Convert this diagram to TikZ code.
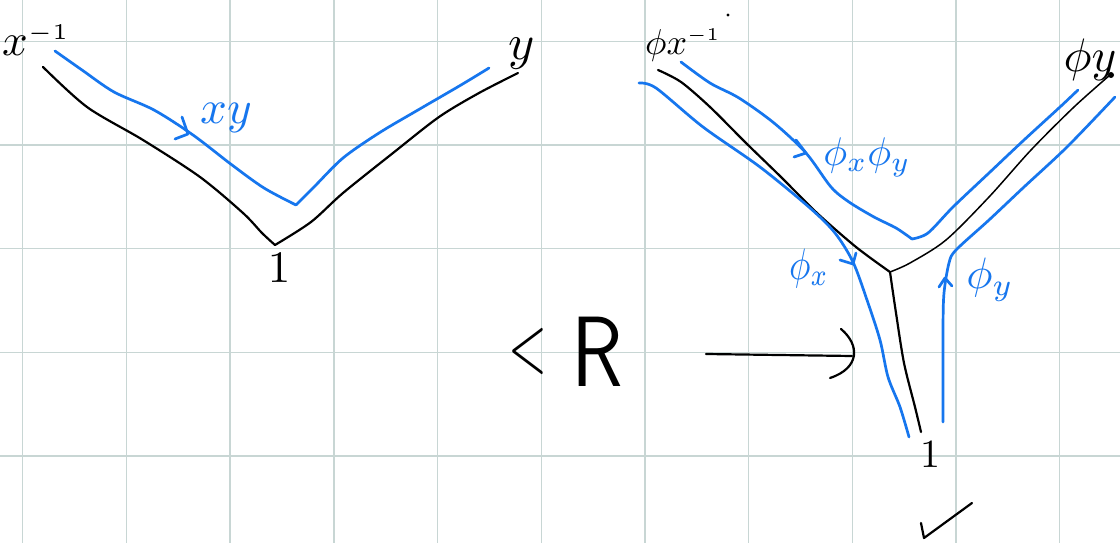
\documentclass[tikz,border=0pt]{standalone}
\definecolor{penblue}{RGB}{22,118,238}
\definecolor{gridcol}{RGB}{200,214,212}
\tikzset{
  ink/.style={line width=2.2pt, black, line cap=round, line join=round},
  thinink/.style={line width=1.5pt, black, line cap=round, line join=round},
  blueink/.style={line width=2.7pt, penblue, line cap=round, line join=round},
  lbl/.style={inner sep=0pt},
  bluelbl/.style={lbl, text=penblue},
}
\newcommand{\bigtxt}[2]{\scalebox{#1}{#2}}
\begin{document}
\begin{tikzpicture}[x=1pt,y=-1pt]
\useasboundingbox (0,0) rectangle (1120,543);
\fill[white] (0,0) rectangle (1120,543);
% grid
\foreach \k in {0,...,10} {\draw[gridcol, line width=1.4pt] ({22.7+103.7*\k},0) -- ({22.7+103.7*\k},543);}
\foreach \k in {0,...,4} {\draw[gridcol, line width=1.4pt] (0,{41.5+103.6*\k}) -- (1120,{41.5+103.6*\k});}

% ---------- left V ----------
\coordinate (Lv) at (275,245);
\draw[ink] plot[smooth] coordinates {(43,67) (87,107) (143,140) (200,177) (243,213) (262,233) (Lv)};
\draw[ink] plot[smooth] coordinates {(Lv) (311,222) (343,193) (393,153) (439,117) (479,93) (518,73)};
\coordinate (Lb) at (296,205);
\draw[blueink] plot[smooth] coordinates {(55,51) (82,70) (114,92) (154,110) (193,135) (232,165) (264,188) (Lb)};
\draw[blueink] plot[smooth] coordinates {(Lb) (314,187) (343,158) (379,133) (418,110) (461,85) (489,68)};
\draw[blueink] (182,117) -- (188,134) -- (175,139);

\node[lbl] (lx) at (36,40) {\bigtxt{4.5}{$x^{\scriptscriptstyle -1}$}};
\node[lbl] (ly) at (522,54) {\bigtxt{5}{$y$}};
\node[lbl] (l1) at (279,268) {\bigtxt{4.5}{$1$}};
\node[bluelbl] (lxy) at (226,118) {\bigtxt{4.7}{$xy$}};

% ---------- right Y ----------
\coordinate (Rv) at (890,272);
\draw[ink] plot[smooth] coordinates {(658,70) (681,82) (710,107) (746,143) (781,177) (817,213) (856,247) (Rv)};
\draw[thinink] plot[smooth] coordinates {(Rv) (910,263) (946,240) (989,197) (1031,150) (1074,107) (1110,75)};
\draw[ink] plot[smooth] coordinates {(Rv) (896,313) (904,363) (915,407) (921,432)};
\fill (1111,75) circle (3pt);

% blue outer left path
\draw[blueink] plot[smooth] coordinates {(639,83) (656,88) (703,127) (760,167) (810,208) (835,233) (853,262) (867,300) (880,340) (888,377) (900,407) (909,437)};
\draw[blueink] (840,260) -- (853,264) -- (856,253);
% blue upper path
\coordinate (Rb) at (912,239);
\draw[blueink] plot[smooth] coordinates {(681,62) (710,83) (739,98) (774,123) (806,153) (831,187) (849,202) (874,217) (896,228) (Rb)};
\draw[blueink] plot[smooth] coordinates {(Rb) (928,233) (953,207) (989,173) (1024,140) (1060,107) (1078,90)};
\draw[blueink] (796,140) -- (806,153) -- (794,157);
% blue right path
\draw[blueink] plot[smooth] coordinates {(943,422) (943,330) (944,293) (949,263) (956,250) (989,220) (1024,187) (1067,147) (1115,97)};
\draw[blueink] (939,287) -- (945,278) -- (952,286);

\fill (728,15) circle (1.6pt);

\node[lbl] (rx) at (683,45) {\bigtxt{3.6}{$\phi x^{\scriptscriptstyle -1}$}};
\node[lbl] (ry) at (1090,60) {\bigtxt{4.7}{$\phi y$}};
\node[bluelbl] (rxy) at (867,157) {\bigtxt{4}{$\phi_x\phi_y$}};
\node[bluelbl] (rpx) at (809,268) {\scalebox{3.6}[4.4]{$\phi_x$}};
\node[bluelbl] (rpy) at (990,280) {\bigtxt{4.4}{$\phi_y$}};
\node[lbl] (r1) at (930,455) {\bigtxt{4}{$1$}};

% <R and arrow
\node[inner sep=0pt] (R) at (566,352) {\raisebox{15pt}{\scalebox{5}[8]{$<$}}\hspace{24pt}\scalebox{8}[10]{\sffamily R}};
\coordinate (aS) at (706,354);
\coordinate (aE) at (852,356);
\draw[ink] (aS) -- (aE);
\draw[ink] (841,329) .. controls (860,345) and (860,368) .. (830,378);

% check mark
\draw[ink] (921,523) -- (924,538) -- (972,503);
\end{tikzpicture}
\end{document}
